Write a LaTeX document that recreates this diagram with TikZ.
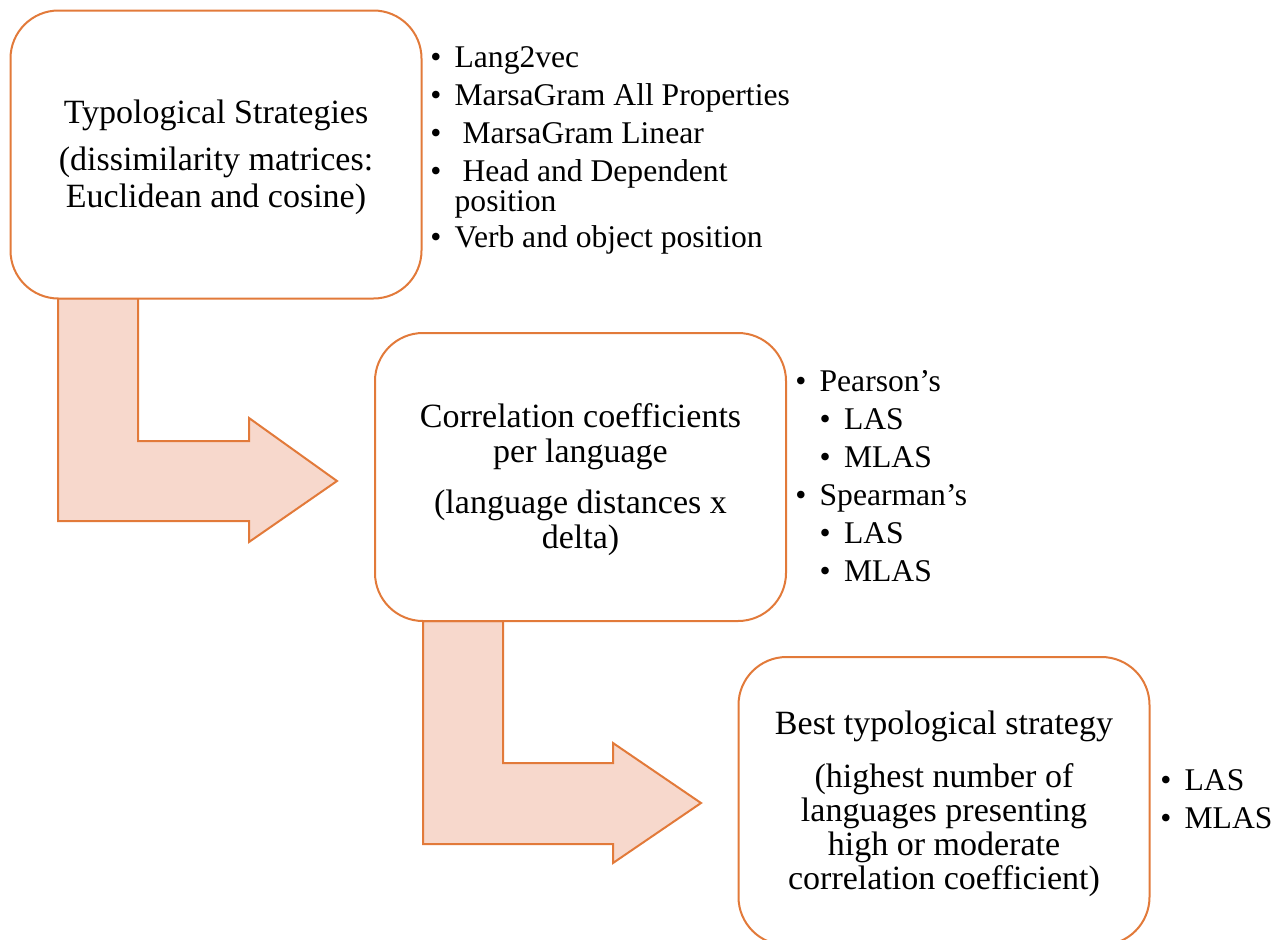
\documentclass[tikz,border=0pt]{standalone}
\usepackage{fontspec}
\setmainfont{Liberation Serif}
\usepackage{tikz}

\definecolor{boxline}{RGB}{226,122,58}
\definecolor{arrowfill}{RGB}{247,216,204}

\begin{document}
\begin{tikzpicture}[x=0.75pt,y=0.75pt,yscale=-1,xscale=1,
    stagebox/.style={draw=boxline, line width=1.5pt, fill=white, rounded corners=36pt,
        minimum width=308.25pt, minimum height=216pt, inner sep=0pt},
    stagetext/.style={inner sep=0pt, align=center, yshift=-2.25pt},
    bentarrow/.style={draw=boxline, line width=1.5pt, fill=arrowfill, line join=miter},
    itemlist/.style={anchor=base west, inner sep=0pt, font=\fontsize{23.7}{28.5}\selectfont}]

            % Frame
            \useasboundingbox (0,0) rectangle (1284,939);
            \clip (0,0) rectangle (1284,939);

            % Bent arrows
            \draw [bentarrow] (58,298) -- (138,298) -- (138,441) -- (249,441) -- (249,418)
                -- (337,481) -- (249,542) -- (249,521) -- (58,521) -- cycle;
            \draw [bentarrow] (423,621) -- (503,621) -- (503,763) -- (613,763) -- (613,743)
                -- (701,803) -- (613,863) -- (613,844) -- (423,844) -- cycle;

            % Boxes
            \node [stagebox] (typo) at (216,154.5) {};
            \node [stagebox] (corr) at (580.5,477) {};
            \node [stagebox] (best) at (944,801) {};

            % Box texts
            \node [stagetext, font=\fontsize{25.5}{27.75}\selectfont] (typotext) at (typo)
                {Typological Strategies\\[7.5pt](dissimilarity matrices:\\Euclidean and cosine)};
            \node [stagetext, font=\fontsize{25.5}{26.25}\selectfont] (corrtext) at (corr)
                {Correlation coefficients\\per language\\[12pt](language distances x\\delta)};
            \node [stagetext, font=\fontsize{25.5}{25.5}\selectfont] (besttext) at (best)
                {Best typological strategy\\[14.25pt](highest number of\\languages presenting\\high or moderate\\correlation coefficient)};

            % Lists
            \node [itemlist] (typolist) at (430,67) {\begin{tabular}[t]{@{}l@{\hspace{10pt}}l@{}}
                \textbullet & Lang2vec\\
                \textbullet & MarsaGram All Properties\\
                \textbullet & \ MarsaGram Linear\\
                \textbullet & \ Head and Dependent\\[-5.5pt]
                            & position\\[-1.5pt]
                \textbullet & Verb and object position
                \end{tabular}};
            \node [itemlist] (corrlist) at (795,391) {\begin{tabular}[t]{@{}l@{\hspace{10pt}}l@{}}
                \textbullet & Pearson’s\\
                            & \textbullet\hspace{10pt}LAS\\
                            & \textbullet\hspace{10pt}MLAS\\
                \textbullet & Spearman’s\\
                            & \textbullet\hspace{10pt}LAS\\
                            & \textbullet\hspace{10pt}MLAS
                \end{tabular}};
            \node [itemlist] (bestlist) at (1160,790) {\begin{tabular}[t]{@{}l@{\hspace{10pt}}l@{}}
                \textbullet & LAS\\
                \textbullet & MLAS
                \end{tabular}};

\end{tikzpicture}
\end{document}
